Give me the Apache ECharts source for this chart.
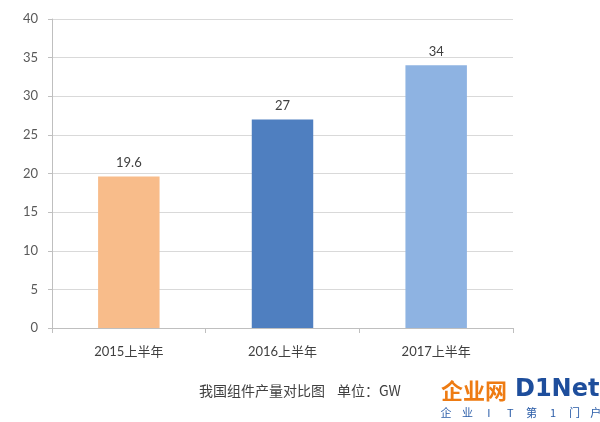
<!DOCTYPE html>
<html>
<head>
<meta charset="utf-8">
<script src="https://cdn.jsdelivr.net/npm/echarts@6/dist/echarts.min.js"></script>
<style>
html,body{margin:0;padding:0;background:#fff;}
#c{width:600px;height:422px;}
</style>
</head>
<body>
<div id="c"></div>
<script>
var categories = ['2015上半年', '2016上半年', '2017上半年'];
var values = [19.6, 27, 34];
var barColors = ['#F8BC8A', '#4F7FC0', '#8EB3E2'];
var yTicks = { min: 0, max: 40, interval: 5 };
var captionTitle = '我国组件产量对比图';
var captionUnit = '单位：GW';
var sloganChars = ['企', '业', 'I', 'T', '第', '1', '门', '户'];

var fontLatin = 'Lato, "Noto Sans CJK SC", sans-serif';
var cjk = '"Noto Sans CJK SC", sans-serif';
var graphics = [
  { type: 'text', left: 199, top: 384,
    style: { text: captionTitle, fill: '#404040', fontSize: 14, fontFamily: cjk } },
  { type: 'text', left: 337, top: 384,
    style: { text: captionUnit, fill: '#404040', fontSize: 14, fontFamily: cjk } },
  { type: 'text', left: 441, top: 380,
    style: { text: '企业网', fill: '#EE7B12', fontSize: 22, fontWeight: 'bold', fontFamily: cjk } },
  { type: 'text', left: 515, top: 378,
    style: { text: 'D1Net', fill: '#1E4E9C', fontSize: 24, fontWeight: 'bold', fontFamily: '"DejaVu Sans", sans-serif' } }
];
sloganChars.forEach(function (ch, i) {
  graphics.push({ type: 'text', x: 446 + i * 21.4, y: 413,
    style: { text: ch, fill: '#2A5CA8', fontSize: 11, fontFamily: cjk, align: 'center', verticalAlign: 'middle' } });
});

var chart = echarts.init(document.getElementById('c'), null, { renderer: 'canvas' });
chart.setOption({
  backgroundColor: '#ffffff',
  animation: false,
  grid: { left: 52, top: 19, right: 87, bottom: 94, containLabel: false },
  xAxis: {
    type: 'category',
    data: categories,
    axisLine: { show: true, lineStyle: { color: '#bfbfbf', width: 1 } },
    axisTick: { show: true, length: 5, lineStyle: { color: '#bfbfbf' } },
    axisLabel: { color: '#404040', fontSize: 13, margin: 17, fontFamily: fontLatin }
  },
  yAxis: {
    type: 'value',
    min: yTicks.min, max: yTicks.max, interval: yTicks.interval,
    axisLine: { show: true, lineStyle: { color: '#bfbfbf', width: 1 } },
    axisTick: { show: true, length: 4, lineStyle: { color: '#bfbfbf' } },
    splitLine: { show: true, lineStyle: { color: '#d9d9d9', width: 1 } },
    axisLabel: { color: '#595959', fontSize: 13, margin: 14, fontFamily: fontLatin }
  },
  series: [{
    type: 'bar',
    barWidth: '40%',
    data: values.map(function (v, i) {
      return { value: v, itemStyle: { color: barColors[i] } };
    }),
    label: {
      show: true, position: 'top', distance: 7,
      color: '#404040', fontSize: 13, fontFamily: fontLatin
    }
  }],
  graphic: graphics
});
</script>
</body>
</html>
